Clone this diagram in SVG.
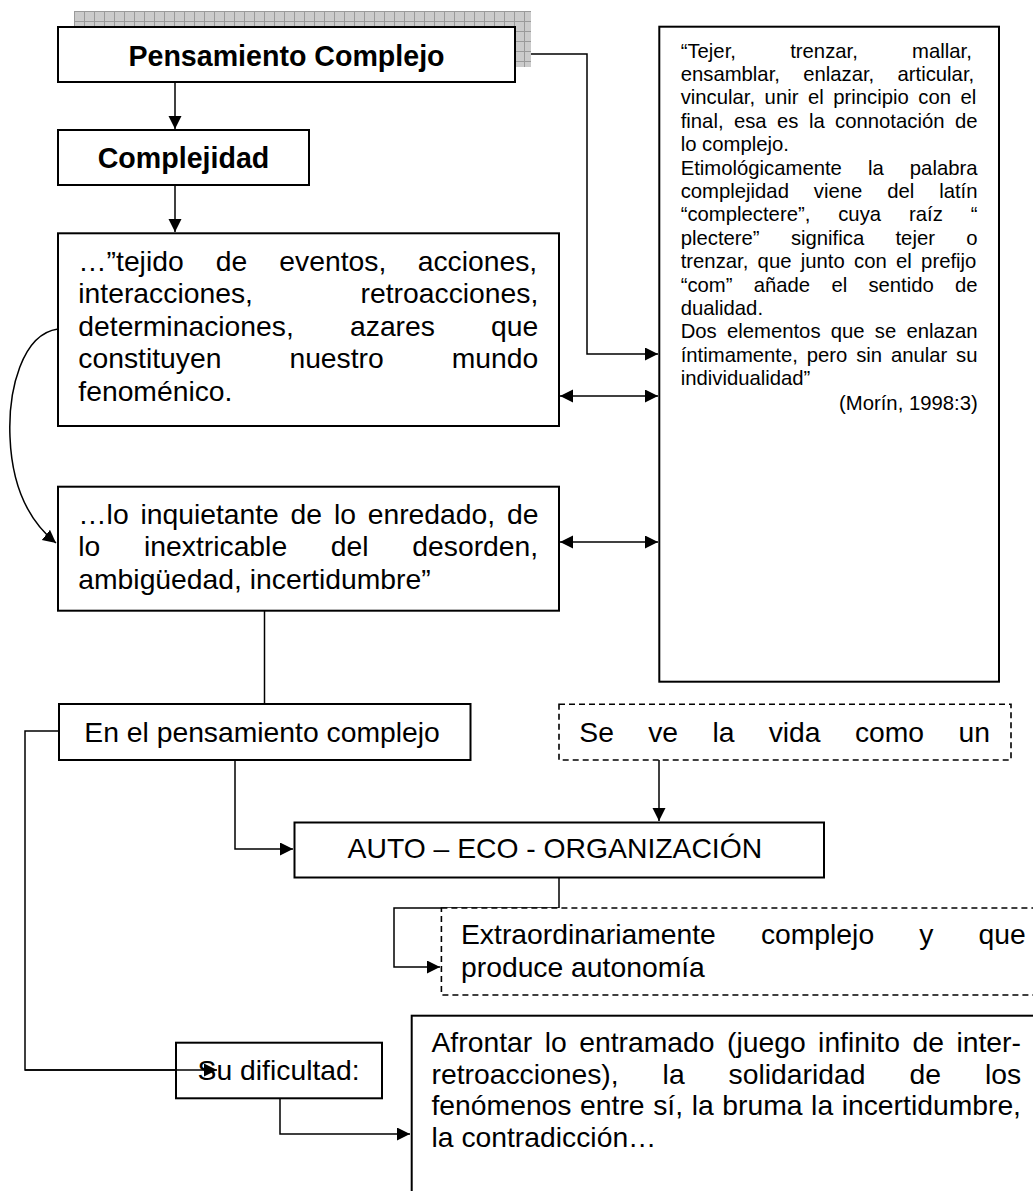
<svg xmlns="http://www.w3.org/2000/svg" width="1033" height="1191" viewBox="0 0 1033 1191">
<style>
.box{fill:#fff;stroke:#000;stroke-width:2}
.dash{fill:#fff;stroke:#000;stroke-width:1.6;stroke-dasharray:6 4}
.ln{fill:none;stroke:#000;stroke-width:1.5}
.t{font-family:"Liberation Sans",Arial,sans-serif;font-size:28.3px;fill:#000}
.b{font-family:"Liberation Sans",Arial,sans-serif;font-size:28.6px;font-weight:bold;fill:#000}
.s{font-family:"Liberation Sans",Arial,sans-serif;font-size:20.3px;fill:#000}
</style>
<defs>
<pattern id="hatch" patternUnits="userSpaceOnUse" width="10" height="10" x="74" y="11">
<rect width="10" height="10" fill="#cbcbcb"/>
<path d="M0 0.5H10M0.5 0V10" stroke="#9a9a9a" stroke-width="1"/>
</pattern>
<marker id="ah" markerUnits="userSpaceOnUse" markerWidth="14" markerHeight="14" refX="13" refY="6.5" orient="auto-start-reverse">
<path d="M0 0L13 6.5L0 13z" fill="#000"/>
</marker>
</defs>

<g id="connectors">
<path class="ln" d="M175 82V129" marker-end="url(#ah)"/>
<path class="ln" d="M175 185V232" marker-end="url(#ah)"/>
<path class="ln" d="M515 54H587V354H658" marker-end="url(#ah)"/>
<path class="ln" d="M560 396H658" marker-start="url(#ah)" marker-end="url(#ah)"/>
<path class="ln" d="M560 542H658" marker-start="url(#ah)" marker-end="url(#ah)"/>
<path class="ln" d="M58 329C22 334 8 390 10 437C12 490 30 522 56 543" marker-end="url(#ah)"/>
<path class="ln" d="M264.5 611V704"/>
<path class="ln" d="M74 731H25V1070H217" marker-end="url(#ah)"/>
<path class="ln" d="M235 760V849H293" marker-end="url(#ah)"/>
<path class="ln" d="M659 752V821" marker-end="url(#ah)"/>
<path class="ln" d="M559 878V908H394V967H440" marker-end="url(#ah)"/>
<path class="ln" d="M280 1098V1134H410" marker-end="url(#ah)"/>
</g>

<g id="pensamiento">
<rect x="74" y="11" width="457" height="56" fill="url(#hatch)"/>
<rect class="box" x="58" y="27" width="457" height="55"/>
<text class="b" x="286.5" y="66" text-anchor="middle">Pensamiento Complejo</text>
</g>

<g id="complejidad">
<rect class="box" x="58" y="130" width="251" height="55"/>
<text class="b" x="183.5" y="168" text-anchor="middle">Complejidad</text>
</g>

<g id="tejido">
<rect class="box" x="58" y="233.3" width="501" height="192.7"/>
<text class="t" y="270.5"><tspan x="78.3">…”tejido</tspan><tspan x="215.7">de</tspan><tspan x="279.3">eventos,</tspan><tspan x="417.7">acciones,</tspan></text>
<text class="t" y="303"><tspan x="78.3">interacciones,</tspan><tspan x="360.6">retroacciones,</tspan></text>
<text class="t" y="335.5"><tspan x="78.3">determinaciones,</tspan><tspan x="350">azares</tspan><tspan x="491.1">que</tspan></text>
<text class="t" y="368"><tspan x="78.3">constituyen</tspan><tspan x="289.4">nuestro</tspan><tspan x="451.8">mundo</tspan></text>
<text class="t" x="78.3" y="400.5">fenoménico.</text>
</g>

<g id="inquietante">
<rect class="box" x="58" y="486.7" width="501" height="124"/>
<text class="t" y="523.5"><tspan x="78.3">…lo</tspan><tspan x="140.4">inquietante</tspan><tspan x="290.6">de</tspan><tspan x="333.9">lo</tspan><tspan x="367.7">enredado,</tspan><tspan x="506.9">de</tspan></text>
<text class="t" y="556"><tspan x="78.3">lo</tspan><tspan x="144">inextricable</tspan><tspan x="330.8">del</tspan><tspan x="412.3">desorden,</tspan></text>
<text class="t" x="78.3" y="588.5">ambigüedad, incertidumbre”</text>
</g>

<g id="cita">
<rect class="box" x="659.3" y="26.7" width="339.7" height="655"/>
<text class="s" x="680.7" y="57.5" word-spacing="48.65">“Tejer, trenzar, mallar,</text>
<text class="s" x="680.7" y="80.9" word-spacing="17.65">ensamblar, enlazar, articular,</text>
<text class="s" x="680.7" y="104.3" word-spacing="3.9">vincular, unir el principio con el</text>
<text class="s" x="680.7" y="127.7" word-spacing="4.78">final, esa es la connotación de</text>
<text class="s" x="680.7" y="151.1">lo complejo.</text>
<text class="s" x="680.7" y="174.5" word-spacing="20.45">Etimológicamente la palabra</text>
<text class="s" x="680.7" y="197.9" word-spacing="19.27">complejidad viene del latín</text>
<text class="s" x="680.7" y="221.3" word-spacing="22.3">“complectere”, cuya raíz “</text>
<text class="s" x="680.7" y="244.7" word-spacing="25.67">plectere” significa tejer o</text>
<text class="s" x="680.7" y="268.1" word-spacing="3.66">trenzar, que junto con el prefijo</text>
<text class="s" x="680.7" y="291.5" word-spacing="15.6">“com” añade el sentido de</text>
<text class="s" x="680.7" y="314.9">dualidad.</text>
<text class="s" x="680.7" y="338.3" word-spacing="4.58">Dos elementos que se enlazan</text>
<text class="s" x="680.7" y="361.7" word-spacing="3.18">íntimamente, pero sin anular su</text>
<text class="s" x="680.7" y="385.1">individualidad”</text>
<text class="s" x="977.7" y="410" text-anchor="end">(Morín, 1998:3)</text>
</g>

<g id="en-el-pensamiento">
<rect class="box" x="59" y="704" width="411.5" height="56"/>
<text class="t" x="84.3" y="741.5">En el pensamiento complejo</text>
</g>

<g id="se-ve">
<rect class="dash" x="559" y="704.3" width="452" height="55.7"/>
<text class="t" y="741.7"><tspan x="579.3">Se</tspan><tspan x="648.2">ve</tspan><tspan x="712.4">la</tspan><tspan x="768.7">vida</tspan><tspan x="854.9">como</tspan><tspan x="958.4">un</tspan></text>
</g>

<g id="auto-eco">
<rect class="box" x="294.5" y="822.5" width="529.5" height="55"/>
<text class="t" x="347.6" y="858.3">AUTO – ECO - ORGANIZACIÓN</text>
</g>

<g id="extraordinariamente">
<rect class="dash" x="441.4" y="908" width="620" height="87"/>
<text class="t" y="944.3"><tspan x="461">Extraordinariamente</tspan><tspan x="760.9">complejo</tspan><tspan x="919.2">y</tspan><tspan x="978.5">que</tspan></text>
<text class="t" x="461" y="976.8">produce autonomía</text>
</g>

<g id="su-dificultad">
<rect class="box" x="176" y="1042.7" width="206" height="55.6"/>
<text class="t" x="197.6" y="1080">Su dificultad:</text>
</g>

<g id="afrontar">
<rect class="box" x="411.7" y="1015.7" width="660" height="220"/>
<text class="t" y="1051.7"><tspan x="431.5">Afrontar</tspan><tspan x="544.7">lo</tspan><tspan x="579.2">entramado</tspan><tspan x="727">(juego</tspan><tspan x="818.1">infinito</tspan><tspan x="912.4">de</tspan><tspan x="956.4">inter-</tspan></text>
<text class="t" y="1083.5"><tspan x="431.5">retroacciones),</tspan><tspan x="662.6">la</tspan><tspan x="728.6">solidaridad</tspan><tspan x="909.4">de</tspan><tspan x="984.9">los</tspan></text>
<text class="t" y="1115.3"><tspan x="431.5">fenómenos</tspan><tspan x="580.1">entre</tspan><tspan x="653.2">sí,</tspan><tspan x="691.7">la</tspan><tspan x="722.3">bruma</tspan><tspan x="811.1">la</tspan><tspan x="841.7">incertidumbre,</tspan></text>
<text class="t" x="431.5" y="1147">la contradicción…</text>
</g>

<g id="overlay-connectors">
<path class="ln" d="M25 1070H217" marker-end="url(#ah)"/>
</g>
</svg>
